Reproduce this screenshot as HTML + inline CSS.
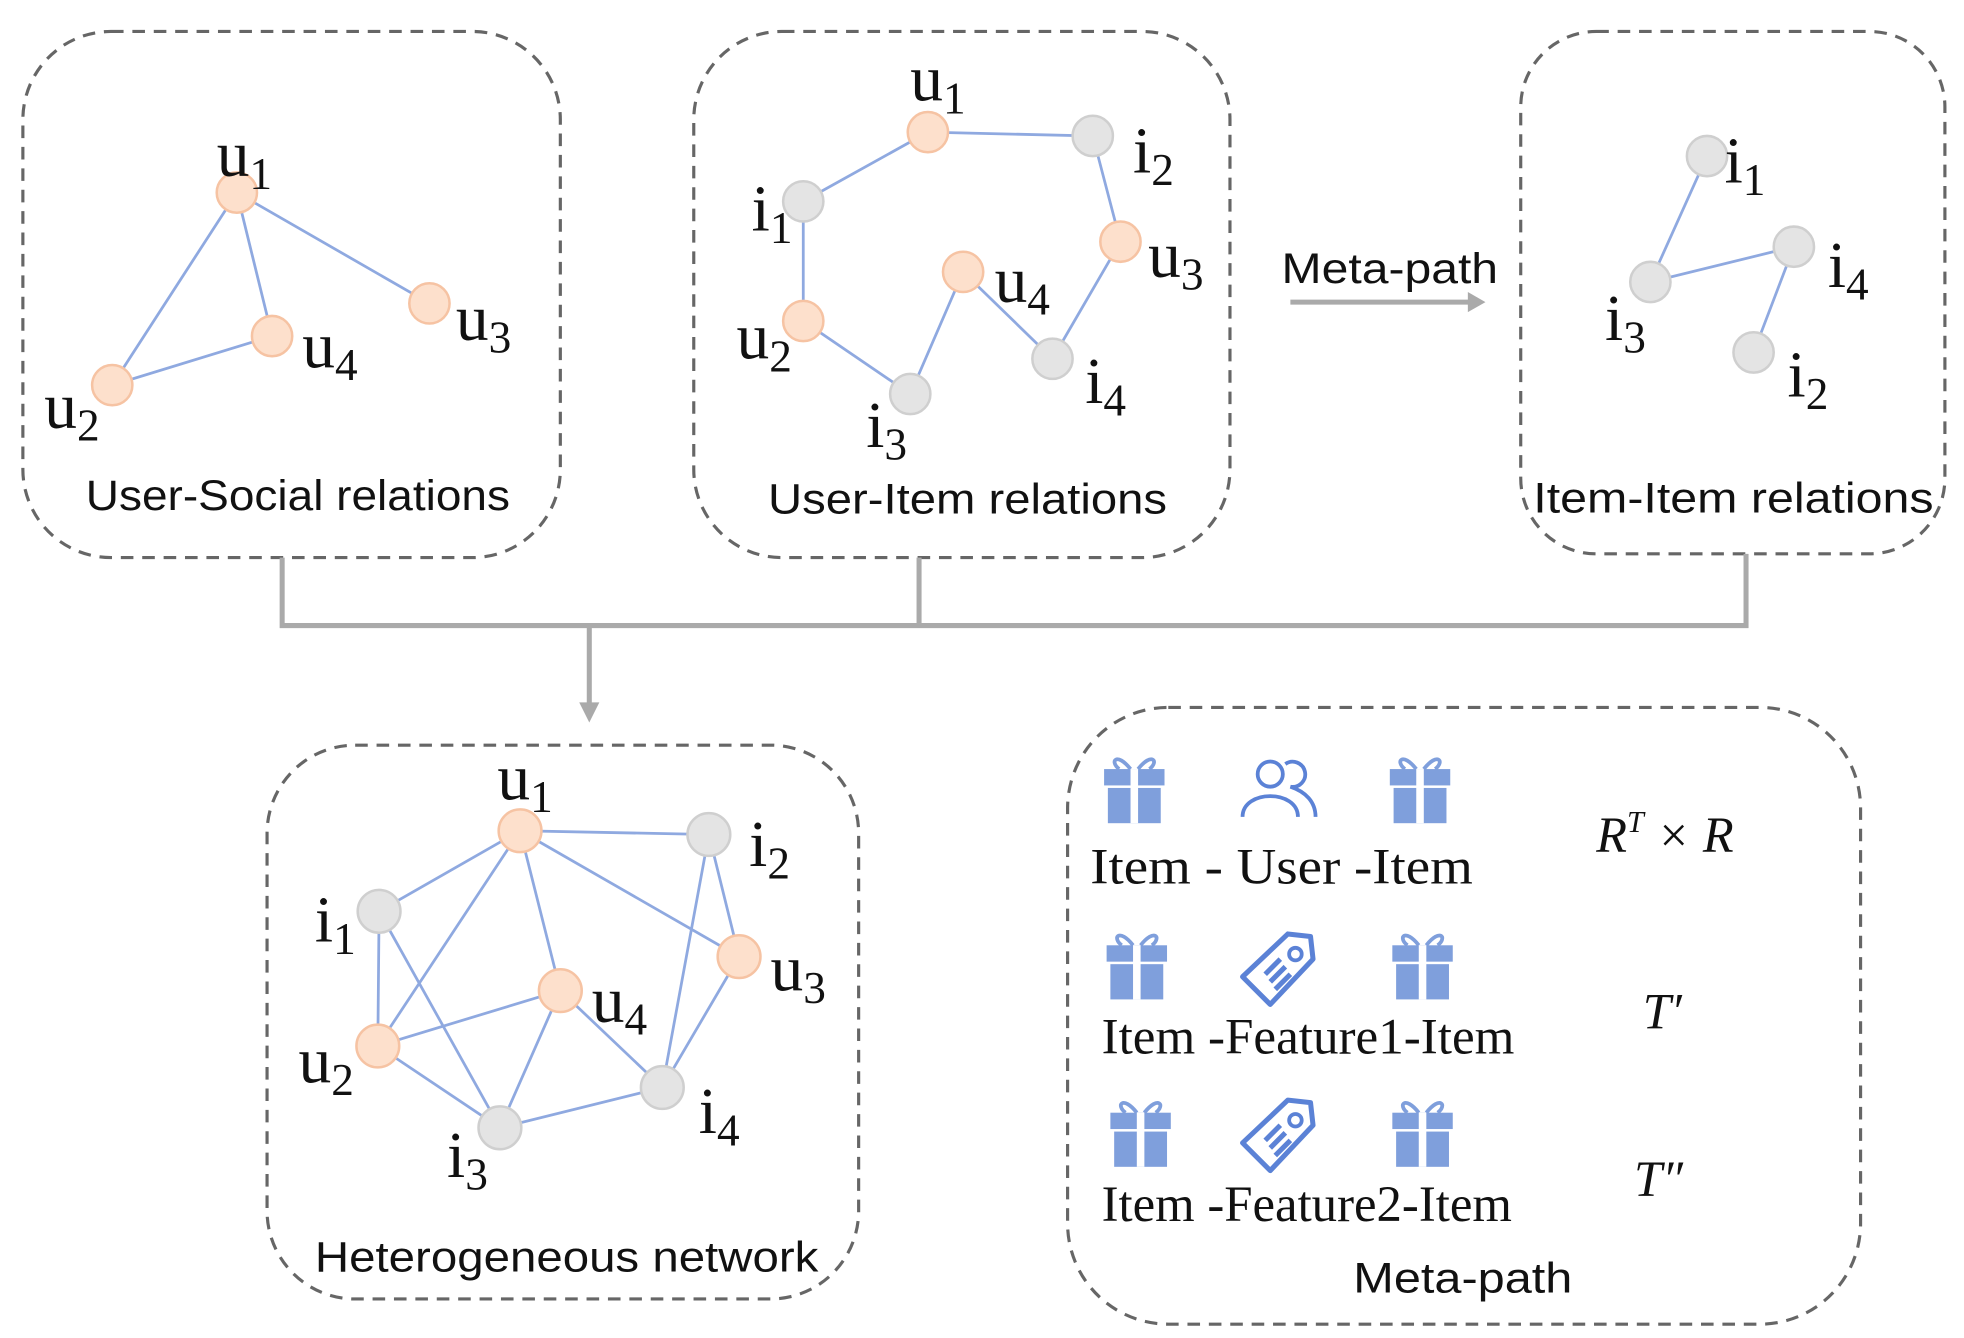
<!DOCTYPE html>
<html><head><meta charset="utf-8"><style>
html,body{margin:0;padding:0;background:#fff}
svg{display:block}
.lb{font-family:"Liberation Serif",serif;font-size:52px;fill:#111}
.sb{font-size:36px}
.cap{font-family:"Liberation Sans",sans-serif;font-size:34px;fill:#111}
.mt{font-family:"Liberation Serif",serif;font-size:40px;fill:#111}
</style></head><body>
<svg width="1964" height="1338" viewBox="0 0 1560 1063" xmlns="http://www.w3.org/2000/svg">
<defs>
<g id="gift">
<path d="M-3,-16 C-14,-30 -20,-22 -12,-16 M3,-16 C14,-30 20,-22 12,-16" fill="none" stroke="#7f9fdc" stroke-width="3"/>
<rect x="-24" y="-16" width="48" height="13" fill="#7f9fdc"/>
<rect x="-21" y="-1" width="42" height="28" fill="#7f9fdc"/>
<rect x="-3" y="-16" width="6" height="43" fill="#fff"/>
</g>
<g id="tag">
<path d="M8,-28 L26,-26 L28,-8 L-6,28 L-28,6 Z" fill="none" stroke="#5b82d6" stroke-width="4" stroke-linejoin="round"/>
<circle cx="14" cy="-12" r="5" fill="none" stroke="#5b82d6" stroke-width="3"/>
<path d="M-10,4 L2,-8 M-6,10 L6,-2 M-2,16 L10,4" stroke="#5b82d6" stroke-width="4"/>
</g>
<g id="ppl" fill="none" stroke="#5b82d6" stroke-width="3">
<circle cx="-6" cy="-12" r="10"/><path d="M-28,22 C-28,0 16,0 16,22"/>
<path d="M6,-20 A10,10 0 1 1 10,-2 C22,2 30,10 30,22"/>
</g>
</defs>
<g fill="none" stroke="#666" stroke-width="2.5" stroke-dasharray="10,7">
<rect x="18" y="25" width="427" height="418" rx="70"/>
<rect x="551" y="25" width="426" height="418" rx="70"/>
<rect x="1208" y="25" width="337" height="415" rx="60"/>
<rect x="212" y="592" width="470" height="440" rx="70"/>
<rect x="848" y="562" width="630" height="490" rx="80"/>
</g>
<g stroke="#aaa" stroke-width="4" fill="none">
<path d="M224,443V497H1387V440M730,443V497M468,497V560"/>
<path d="M1025,240H1168"/>
</g>
<path d="M460,558 L476,558 L468,574Z" fill="#aaa"/>
<path d="M1166,232 L1180,240 L1166,248Z" fill="#aaa"/>
<g stroke="#8fa9e0" stroke-width="2.2" fill="none">
<path d="M188,153L89,306M188,153L216,267M188,153L341,241M89,306L216,267"/>
<path d="M638,160L737,105L868,108L890,192L836,285L765,216L723,313L638,255Z"/>
<path d="M1356,124L1311,224M1311,224L1425,196M1425,196L1393,280"/>
<path d="M413,660L301,724M413,660L563,663M413,660L300,831M413,660L445,787M413,660L587,760M563,663L587,760M563,663L526,864M587,760L526,864M301,724L300,831M301,724L397,896M300,831L445,787M300,831L397,896M445,787L397,896M445,787L526,864M397,896L526,864"/>
</g>
<g stroke="#f6c3a3" stroke-width="2" fill="#fde0cc">
<circle cx="188" cy="153" r="16"/><circle cx="216" cy="267" r="16"/><circle cx="341" cy="241" r="16"/><circle cx="89" cy="306" r="16"/>
<circle cx="737" cy="105" r="16"/><circle cx="890" cy="192" r="16"/><circle cx="765" cy="216" r="16"/><circle cx="638" cy="255" r="16"/>
<circle cx="413" cy="660" r="17"/><circle cx="587" cy="760" r="17"/><circle cx="445" cy="787" r="17"/><circle cx="300" cy="831" r="17"/>
</g>
<g stroke="#cfcfcf" stroke-width="2" fill="#e4e4e4">
<circle cx="868" cy="108" r="16"/><circle cx="638" cy="160" r="16"/><circle cx="836" cy="285" r="16"/><circle cx="723" cy="313" r="16"/>
<circle cx="1356" cy="124" r="16"/><circle cx="1425" cy="196" r="16"/><circle cx="1311" cy="224" r="16"/><circle cx="1393" cy="280" r="16"/>
<circle cx="563" cy="663" r="17"/><circle cx="301" cy="724" r="17"/><circle cx="526" cy="864" r="17"/><circle cx="397" cy="896" r="17"/>
</g>
<g class="lb">
<text x="172" y="140">u<tspan class="sb" dy="10">1</tspan></text>
<text x="362" y="270">u<tspan class="sb" dy="10">3</tspan></text>
<text x="240" y="292">u<tspan class="sb" dy="10">4</tspan></text>
<text x="35" y="340">u<tspan class="sb" dy="10">2</tspan></text>
<text x="723" y="80">u<tspan class="sb" dy="10">1</tspan></text>
<text x="900" y="137">i<tspan class="sb" dy="10">2</tspan></text>
<text x="597" y="183">i<tspan class="sb" dy="10">1</tspan></text>
<text x="912" y="220">u<tspan class="sb" dy="10">3</tspan></text>
<text x="790" y="240">u<tspan class="sb" dy="10">4</tspan></text>
<text x="585" y="285">u<tspan class="sb" dy="10">2</tspan></text>
<text x="862" y="320">i<tspan class="sb" dy="10">4</tspan></text>
<text x="688" y="355">i<tspan class="sb" dy="10">3</tspan></text>
<text x="1370" y="145">i<tspan class="sb" dy="10">1</tspan></text>
<text x="1452" y="228">i<tspan class="sb" dy="10">4</tspan></text>
<text x="1275" y="270">i<tspan class="sb" dy="10">3</tspan></text>
<text x="1420" y="315">i<tspan class="sb" dy="10">2</tspan></text>
<text x="395" y="635">u<tspan class="sb" dy="10">1</tspan></text>
<text x="595" y="688">i<tspan class="sb" dy="10">2</tspan></text>
<text x="250" y="748">i<tspan class="sb" dy="10">1</tspan></text>
<text x="612" y="787">u<tspan class="sb" dy="10">3</tspan></text>
<text x="470" y="812">u<tspan class="sb" dy="10">4</tspan></text>
<text x="237" y="860">u<tspan class="sb" dy="10">2</tspan></text>
<text x="555" y="900">i<tspan class="sb" dy="10">4</tspan></text>
<text x="355" y="935">i<tspan class="sb" dy="10">3</tspan></text>
</g>
<g class="cap">
<text x="68" y="405" textLength="337" lengthAdjust="spacingAndGlyphs">User-Social relations</text>
<text x="610" y="408" textLength="317" lengthAdjust="spacingAndGlyphs">User-Item relations</text>
<text x="1218" y="407" textLength="318" lengthAdjust="spacingAndGlyphs">Item-Item relations</text>
<text x="250" y="1010" textLength="400" lengthAdjust="spacingAndGlyphs">Heterogeneous network</text>
<text x="1018" y="225" textLength="172" lengthAdjust="spacingAndGlyphs">Meta-path</text>
<text x="1075" y="1027" textLength="174" lengthAdjust="spacingAndGlyphs">Meta-path</text>
</g>
<use href="#gift" x="901" y="627"/><use href="#ppl" x="1015" y="627"/><use href="#gift" x="1128" y="627"/>
<use href="#gift" x="903" y="767"/><use href="#tag" x="1015" y="770"/><use href="#gift" x="1130" y="767"/>
<use href="#gift" x="906" y="900"/><use href="#tag" x="1015" y="902"/><use href="#gift" x="1130" y="900"/>
<g class="mt">
<text x="866" y="702" textLength="304" lengthAdjust="spacingAndGlyphs">Item  -  User -Item</text>
<text x="875" y="837" textLength="328" lengthAdjust="spacingAndGlyphs">Item -Feature1-Item</text>
<text x="875" y="970" textLength="326" lengthAdjust="spacingAndGlyphs">Item -Feature2-Item</text>
<text x="1268" y="677" font-style="italic">R<tspan font-size="24" dy="-16">T</tspan><tspan dy="16"> × R</tspan></text>
<text x="1305" y="817" font-style="italic">T′</text>
<text x="1298" y="950" font-style="italic">T″</text>
</g>
</svg>
</body></html>
